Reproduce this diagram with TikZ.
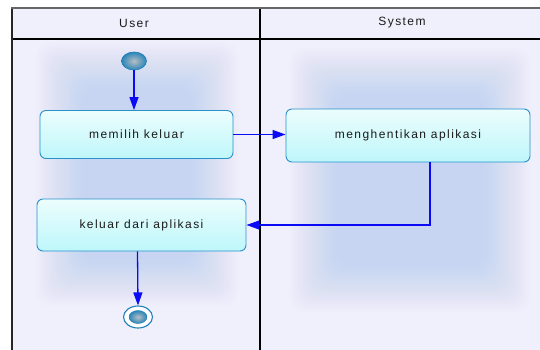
\documentclass[tikz,border=0pt]{standalone}
\usepackage{fontspec}
\setmainfont{Liberation Sans}[LetterSpace=12]
\usetikzlibrary{shapes.geometric,arrows.meta,calc}

\definecolor{lanebg}{HTML}{F0F0FC}
\definecolor{glowc}{HTML}{A8C2F2}
\definecolor{boxtop}{HTML}{ECFDFD}
\definecolor{boxbot}{HTML}{BEF7FA}
\definecolor{boxline}{HTML}{2A90CC}
\definecolor{ballline}{HTML}{1E7FB8}
\definecolor{ballin}{HTML}{B8BEC4}
\definecolor{ballout}{HTML}{2A86B8}
\definecolor{flowc}{HTML}{0A0AF5}
\definecolor{txt}{HTML}{1A1A1A}

\tikzset{
  action/.style={draw=boxline, line width=0.9pt, rounded corners=6pt,
    top color=boxtop, bottom color=boxbot, text=txt,
    font=\fontsize{12}{14}\selectfont, inner sep=0pt},
  initial/.style={ellipse, draw=ballline, line width=0.6pt,
    inner color=ballin, outer color=ballout,
    minimum width=25pt, minimum height=18pt, inner sep=0pt},
  finalring/.style={ellipse, draw=ballline, line width=1.1pt, fill=white,
    minimum width=29pt, minimum height=22pt, inner sep=0pt},
  finaldot/.style={ellipse, inner color=ballin, outer color=ballout,
    draw=ballline, line width=0.4pt,
    minimum width=18pt, minimum height=13pt, inner sep=0pt},
  flow/.style={draw=flowc, line width=1.3pt,
    -{Triangle[length=13pt,width=9pt]}},
  lanetitle/.style={text=txt, font=\fontsize{12}{14}\selectfont},
}

% soft blurred patch made of stacked translucent rounded rectangles
\newcommand{\softglow}[4]{%
  \foreach \k in {0,...,21}{%
    \fill[glowc, opacity=0.026, rounded corners=14pt]
      ($(#1,#2)+(\k*2.2,\k*2.2)$) rectangle ($(#3,#4)-(\k*2.2,\k*2.2)$);
  }%
}

\begin{document}
\begin{tikzpicture}[x=1pt, y=-1pt]
  \useasboundingbox (0,0) rectangle (540,349);
  \fill[white] (0,0) rectangle (540,349);

  % swimlane background
  \fill[lanebg] (12,8) rectangle (548,360);
  \softglow{36}{42}{238}{306}
  \softglow{290}{48}{530}{312}

  % swimlane frame
  \draw[black, line width=1.2pt] (12,39) -- (548,39);
  \draw[black, line width=1.3pt] (260,8) -- (260,360);
  \draw[black!85, line width=1.6pt] (12,8) -- (12,360);
  \draw[black!60, line width=2pt] (11.2,7.5) -- (548,7.5);

  \node[lanetitle] (laneuser) at (134,23) {User};
  \node[lanetitle] (lanesys) at (402,23) {System};

  % activity nodes
  \node[initial] (start) at (134,61) {};
  \node[action, minimum width=193pt, minimum height=48pt] (pick) at (136.5,134.5) {memilih keluar};
  \node[action, minimum width=244pt, minimum height=53pt] (stop) at (408,135.5) {menghentikan aplikasi};
  \node[action, minimum width=209pt, minimum height=52pt] (quit) at (141.5,225) {keluar dari aplikasi};
  \node[finalring] (end) at (138,317) {};
  \node[finaldot] (enddot) at (end.center) {};

  % control flows
  \draw[flow] (start.south) -- (start.south |- pick.north);
  \draw[flow] (pick.east) -- (pick.east -| stop.west);
  \draw[flow] ([xshift=22pt]stop.south) |- (quit.east);
  \draw[flow] ([xshift=-4pt]quit.south) -- (end.north);
\end{tikzpicture}
\end{document}
